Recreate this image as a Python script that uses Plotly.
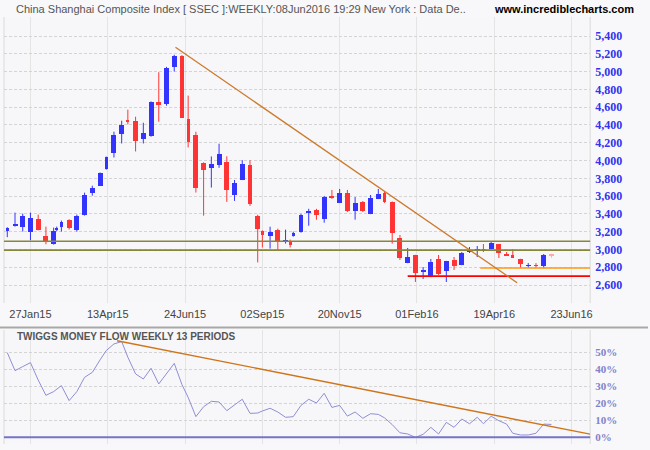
import numpy as np
import plotly.graph_objects as go

# ---------------- data (weekly bars, SSEC) ----------------
weeks = ["31Dec14", "09Jan15", "16Jan15", "23Jan15", "30Jan15", "06Feb15", "13Feb15", "17Feb15", "27Feb15",
         "06Mar15", "13Mar15", "20Mar15", "27Mar15", "03Apr15", "10Apr15", "17Apr15", "24Apr15", "30Apr15",
         "08May15", "15May15", "22May15", "29May15", "05Jun15", "12Jun15", "19Jun15", "26Jun15", "03Jul15",
         "10Jul15", "17Jul15", "24Jul15", "31Jul15", "07Aug15", "14Aug15", "21Aug15", "28Aug15", "02Sep15",
         "11Sep15", "18Sep15", "25Sep15", "30Sep15", "09Oct15", "16Oct15", "23Oct15", "30Oct15", "06Nov15",
         "13Nov15", "20Nov15", "27Nov15", "04Dec15", "11Dec15", "18Dec15", "25Dec15", "31Dec15", "08Jan16",
         "15Jan16", "22Jan16", "29Jan16", "05Feb16", "19Feb16", "26Feb16", "04Mar16", "11Mar16", "18Mar16",
         "25Mar16", "01Apr16", "08Apr16", "15Apr16", "22Apr16", "29Apr16", "06May16", "13May16", "20May16",
         "27May16", "03Jun16", "08Jun16"]
# trading sessions represented by each weekly bar (chart spaces bars by sessions)
sessions = [3, 5, 5, 5, 5, 5, 5, 2, 3, 5, 5, 5, 5, 5, 4, 5, 5, 4, 5, 5, 5, 5, 5, 5, 5, 4, 5, 5, 5, 5,
            5, 5, 5, 5, 5, 3, 5, 5, 5, 3, 2, 5, 5, 5, 5, 5, 5, 5, 5, 5, 5, 5, 4, 5, 5, 5, 5, 5, 5, 5,
            5, 5, 5, 5, 5, 4, 5, 5, 5, 4, 5, 5, 5, 5, 5]
opens = [3216, 3269, 3257, 3194, 3347, 3156, 3067, 3216, 3257, 3336, 3224, 3392, 3639, 3717, 3908,
         4080, 4301, 4448, 4448, 4237, 4279, 4662, 4640, 5057, 5181, 4471, 4290, 3975, 3918, 3952,
         3981, 3613, 3781, 3948, 3379, 3211, 3156, 3223, 3088, 3089, 3156, 3200, 3412, 3446, 3345,
         3591, 3526, 3635, 3433, 3534, 3399, 3568, 3635, 3534, 3129, 2848, 2938, 2747, 2691, 2893,
         2757, 2881, 2825, 2982, 2994, 3005, 3005, 3061, 2949, 2937, 2892, 2814, 2825, 2814, 2934]
highs = [3250, 3414, 3403, 3414, 3392, 3257, 3246, 3257, 3325, 3340, 3392, 3639, 3717, 3866, 4045,
         4324, 4448, 4572, 4493, 4425, 4665, 4993, 5053, 5189, 5185, 4730, 4324, 3980, 4046, 4189,
         4048, 3781, 4004, 4004, 3390, 3215, 3256, 3234, 3223, 3111, 3200, 3401, 3457, 3457, 3602,
         3669, 3680, 3669, 3590, 3545, 3613, 3680, 3658, 3540, 3163, 3017, 2940, 2803, 2893, 2938,
         2872, 2915, 2971, 3027, 3039, 3061, 3095, 3063, 2971, 3005, 2895, 2847, 2847, 2949, 2952]
lows = [3138, 3257, 3201, 3104, 3214, 3059, 3055, 3205, 3201, 3224, 3201, 3381, 3605, 3715, 3897,
        4034, 4192, 4407, 4102, 4192, 4268, 4437, 4617, 5001, 4478, 4147, 3640, 3380, 3696, 3918,
        3535, 3546, 3780, 3490, 2854, 3022, 3010, 2988, 3066, 3022, 3144, 3189, 3267, 3334, 3301,
        3569, 3524, 3421, 3335, 3421, 3397, 3566, 3523, 3065, 2882, 2846, 2634, 2668, 2688, 2713,
        2634, 2769, 2823, 2960, 2915, 2971, 3003, 2904, 2926, 2913, 2791, 2791, 2791, 2791, 2907]
closes = [3236, 3291, 3381, 3358, 3216, 3082, 3212, 3246, 3313, 3246, 3381, 3616, 3695, 3863, 4043,
          4290, 4403, 4437, 4215, 4313, 4662, 4621, 5035, 5170, 4482, 4204, 3696, 3888, 3963, 4076,
          3669, 3747, 3959, 3513, 3234, 3167, 3200, 3100, 3100, 3055, 3189, 3390, 3423, 3390, 3591,
          3580, 3635, 3433, 3526, 3433, 3579, 3624, 3534, 3189, 2904, 2915, 2736, 2769, 2859, 2724,
          2870, 2814, 2960, 2994, 3005, 2994, 3072, 2960, 2937, 2915, 2836, 2825, 2814, 2937, 2928]
tmf = [49.8, 39.2, 41.6, 43.9, 33.7, 24.7, 26.9, 28.5, 30.4, 21.6, 26.9, 35.3, 38.2, 45.5, 51.0,
       54.9, 56.3, 47.1, 37.3, 34.3, 40.6, 31.4, 37.6, 43.5, 31.0, 23.5, 12.2, 18.0, 21.2, 20.8,
       15.7, 18.8, 22.4, 14.1, 14.3, 15.5, 17.1, 14.9, 11.8, 12.0, 12.2, 18.8, 22.4, 20.2, 25.9,
       17.6, 18.8, 12.5, 14.9, 11.2, 13.9, 13.5, 11.5, 7.5, 2.7, 2.0, 0.0, 1.8, 5.9, 2.0,
       8.8, 5.9, 10.8, 8.0, 11.8, 8.0, 12.4, 9.8, 7.8, 2.4, 1.4, 1.4, 2.4, 7.8, 7.6]

# x-axis tick labels and their session numbers
tick_labels = ["27Jan15", "13Apr15", "24Jun15", "02Sep15", "20Nov15", "01Feb16", "19Apr16", "23Jun16"]
tick_sessions = [15, 65, 115, 165, 215, 265, 315, 365]

price_ticks = [2400, 2600, 2800, 3000, 3200, 3400, 3600, 3800, 4000, 4200, 4400, 4600, 4800, 5000, 5200, 5400]
tmf_ticks = [-3.9, 0, 10, 20, 30, 40, 50]

# drawn lines (session, value)
price_trend = [(108.8, 5274), (329.8, 2626)]
tmf_trend = [(71.0, 56.8), (377.0, 1.9)]
olive_levels = [3093, 2993]
orange_level = (306.0, 2791)
red_level = (259.0, 2700)

# ---------------- build ----------------
sess = np.array(sessions)
xpos = np.cumsum(sess) - sess[0]
o = np.array(opens, float); h = np.array(highs, float)
l = np.array(lows, float); c = np.array(closes, float)
n = len(o)
width = np.where(sess >= 5, 3.2, 2.0)

BLUE = "#3434ff"
RED = "#ff3434"
PINK = "#ffaaaa"

fig = go.Figure()

groups = []
for i in range(n):
    if i == n - 1:
        groups.append("pink")
    elif c[i] >= o[i]:
        groups.append("up")
    else:
        groups.append("down")
groups = np.array(groups)

for g, col in (("up", BLUE), ("down", RED), ("pink", PINK)):
    idx = np.where(groups == g)[0]
    wx, wy = [], []
    for i in idx:
        wx += [xpos[i], xpos[i], None]
        wy += [l[i], h[i], None]
    fig.add_trace(go.Scatter(x=wx, y=wy, mode="lines", line=dict(color=col, width=1),
                             hoverinfo="skip", showlegend=False, xaxis="x", yaxis="y"))
    base = np.minimum(o[idx], c[idx])
    hgt = np.maximum(np.abs(c[idx] - o[idx]), 11)
    fig.add_trace(go.Bar(x=xpos[idx], y=hgt, base=base, width=width[idx],
                         marker=dict(color=col, line=dict(width=0)),
                         hovertext=[weeks[i] for i in idx], showlegend=False,
                         xaxis="x", yaxis="y"))

fig.add_trace(go.Scatter(x=xpos, y=tmf, mode="lines", line=dict(color="#8e8ed2", width=1),
                         showlegend=False, xaxis="x2", yaxis="y2", hoverinfo="skip"))

# shapes
shapes = []
for lv in olive_levels:
    shapes.append(dict(type="line", xref="x domain", yref="y", x0=0, x1=1, y0=lv, y1=lv,
                       line=dict(color="#87873c", width=1.6)))
shapes.append(dict(type="line", xref="x", yref="y", x0=orange_level[0], x1=377.06,
                   y0=orange_level[1], y1=orange_level[1], line=dict(color="#ff9a10", width=1.6)))
shapes.append(dict(type="line", xref="x", yref="y", x0=red_level[0], x1=377.06,
                   y0=red_level[1], y1=red_level[1], line=dict(color="#ff0000", width=1.6)))
shapes.append(dict(type="line", xref="x", yref="y", x0=price_trend[0][0], y0=price_trend[0][1],
                   x1=price_trend[1][0], y1=price_trend[1][1], line=dict(color="#cc7a2c", width=1.3)))
shapes.append(dict(type="line", xref="x2 domain", yref="y2", x0=0, x1=1, y0=0, y1=0,
                   line=dict(color="#7474c8", width=2)))
shapes.append(dict(type="line", xref="x2", yref="y2", x0=tmf_trend[0][0], y0=tmf_trend[0][1],
                   x1=tmf_trend[1][0], y1=tmf_trend[1][1], line=dict(color="#d07418", width=1.4)))
# panel borders / separator
W, H = 650.0, 450.0
L, R = 4 / W, 592 / W
for (t, b) in ((17, 303), (330, 444)):
    for xx in (L, R):
        shapes.append(dict(type="line", xref="paper", yref="paper", x0=xx, x1=xx,
                           y0=1 - b / H, y1=1 - t / H, line=dict(color="#dadada", width=1), layer="below"))
shapes.append(dict(type="line", xref="paper", yref="paper", x0=0, x1=1, y0=1 - 327.5 / H, y1=1 - 327.5 / H,
                   line=dict(color="#a8a8a8", width=2)))

xr = [-2.13, 377.06]
axis_font = dict(family="Liberation Sans, Arial, sans-serif", size=11, color="#444444")

fig.update_layout(
    width=650, height=450, autosize=False,
    margin=dict(l=0, r=0, t=0, b=0),
    paper_bgcolor="#f8f8fa", plot_bgcolor="#f7f7fa",
    barmode="overlay", bargap=0,
    shapes=shapes,
    xaxis=dict(domain=[L, R], range=xr, anchor="y", tickmode="array", tickvals=tick_sessions,
               ticktext=tick_labels, showgrid=True, gridcolor="#e4e4e4", gridwidth=1,
               zeroline=False, showline=False, ticks="", tickfont=axis_font, ticklabelstandoff=3),
    yaxis=dict(domain=[1 - 303 / H, 1 - 17 / H], range=[2398, 5614], side="right", anchor="x",
               tickmode="array", tickvals=price_ticks,
               ticktext=["" if v == 2400 else f"{v:,}" for v in price_ticks],
               showgrid=True, gridcolor="#d4d4d4", griddash="3px,2px", zeroline=False, ticks="",
               tickfont=dict(family="Liberation Serif, serif", size=12, color="#3333ee", weight="bold"),
               ticklabelstandoff=4),
    xaxis2=dict(domain=[L, R], range=xr, anchor="y2", tickmode="array", tickvals=tick_sessions,
                showticklabels=False, showgrid=True, gridcolor="#e4e4e4", zeroline=False, ticks=""),
    yaxis2=dict(domain=[1 - 444 / H, 1 - 330 / H], range=[-3.9, 63.1], side="right", anchor="x2",
                tickmode="array", tickvals=tmf_ticks,
                ticktext=["" if v < 0 else f"{v:g}%" for v in tmf_ticks],
                showgrid=True, gridcolor="#d4d4d4", griddash="3px,2px", zeroline=False, ticks="",
                tickfont=dict(family="Liberation Serif, serif", size=11, color="#8282c8", weight="bold"),
                ticklabelstandoff=4),
    annotations=[
        dict(xref="paper", yref="paper", x=14 / W, y=1 - 9 / H, xanchor="left", yanchor="middle",
             showarrow=False,
             text="China Shanghai Composite Index [ SSEC ]:WEEKLY:08Jun2016 19:29 New York : Data De..",
             font=dict(family="Liberation Sans, Arial, sans-serif", size=11, color="#555555")),
        dict(xref="paper", yref="paper", x=638 / W, y=1 - 9 / H, xanchor="right", yanchor="middle",
             showarrow=False, text="<b>www.incrediblecharts.com</b>",
             font=dict(family="Liberation Sans, Arial, sans-serif", size=11, color="#000000")),
        dict(xref="paper", yref="paper", x=15 / W, y=1 - 336 / H, xanchor="left", yanchor="middle",
             showarrow=False, text="<b>TWIGGS MONEY FLOW WEEKLY 13 PERIODS</b>",
             font=dict(family="Liberation Sans, Arial, sans-serif", size=10, color="#555555")),
    ],
)

fig.write_html("out.html")
